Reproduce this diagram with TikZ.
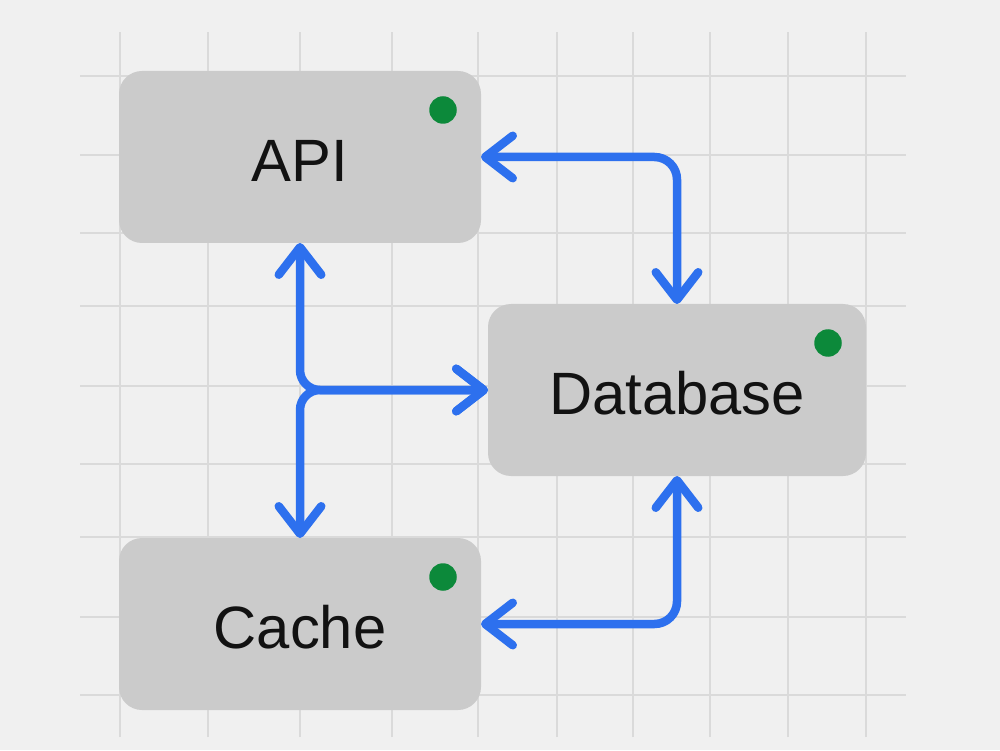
\documentclass[tikz,border=0pt]{standalone}
\usepackage{xcolor}
\usepackage{fontspec}
\setmainfont{Liberation Sans}
\usepackage{tikz}
\usetikzlibrary{positioning,arrows.meta,calc}
\definecolor{svcPaper}{RGB}{240,240,240}
\definecolor{svcGrid}{RGB}{218,218,218}
\definecolor{svcBox}{RGB}{203,203,203}
\definecolor{svcInk}{RGB}{18,18,18}
\definecolor{svcOk}{RGB}{12,137,58}
\definecolor{svcBlue}{RGB}{45,112,238}
\tikzset{
  svc/box/.style={rounded corners=0.46cm, fill=svcBox, text=svcInk,
                  minimum width=7.24cm, minimum height=3.44cm,
                  inner sep=0pt, outer sep=0pt,
                  text height=0.98cm, text depth=0pt,
                  font=\fontsize{34}{40}\selectfont},
  svc/dot/.style={circle, fill=svcOk, minimum size=0.55cm, inner sep=0pt},
  svc/grid/.style={draw=svcGrid, line width=0.045cm},
  svc/link/.style={draw=svcBlue, line width=0.17cm, line cap=round,
                   line join=round, rounded corners=0.45cm,
                   >={Straight Barb[length=5.5mm, width=8.5mm, round]}},
}

\begin{document}
\begin{tikzpicture}

  % ---------------- paper and grid ----------------
  \fill[svcPaper] (0,0) rectangle (20,15);
  \foreach \x in {2.4,4.16,6.0,7.84,9.56,11.14,12.66,14.2,15.76,17.32}
    \draw[svc/grid] (\x,0.26) -- (\x,14.36);
  \foreach \y in {13.48,11.9,10.34,8.88,7.28,5.72,4.26,2.66,1.1}
    \draw[svc/grid] (1.6,\y) -- (18.12,\y);

  % ---------------- services ----------------
  \node[svc/box] (api) at (6.0,11.86) {API};
  \node[svc/box, below right=1.22cm and 0.14cm of api,
        minimum width=7.56cm] (db) {Database};
  \node[svc/box, below=5.9cm of api] (cache) {Cache};

  % status lights, top-right of each box
  \foreach \n in {api,db,cache}
    \node[svc/dot] (\n-ok) at ([shift={(-0.76,-0.78)}]\n.north east) {};

  % ---------------- links ----------------
  \draw[svc/link, <->] (api.east) -| (db.north);
  % shared riser between API and Cache, branching off to the database
  \draw[svc/link, <->, rounded corners=0.4cm] (api.south) |- (db.west);
  \draw[svc/link, <->, rounded corners=0.4cm] (cache.north) |- (db.west);
  \draw[svc/link, <->] (db.south) |- (cache.east);

\end{tikzpicture}
\end{document}
